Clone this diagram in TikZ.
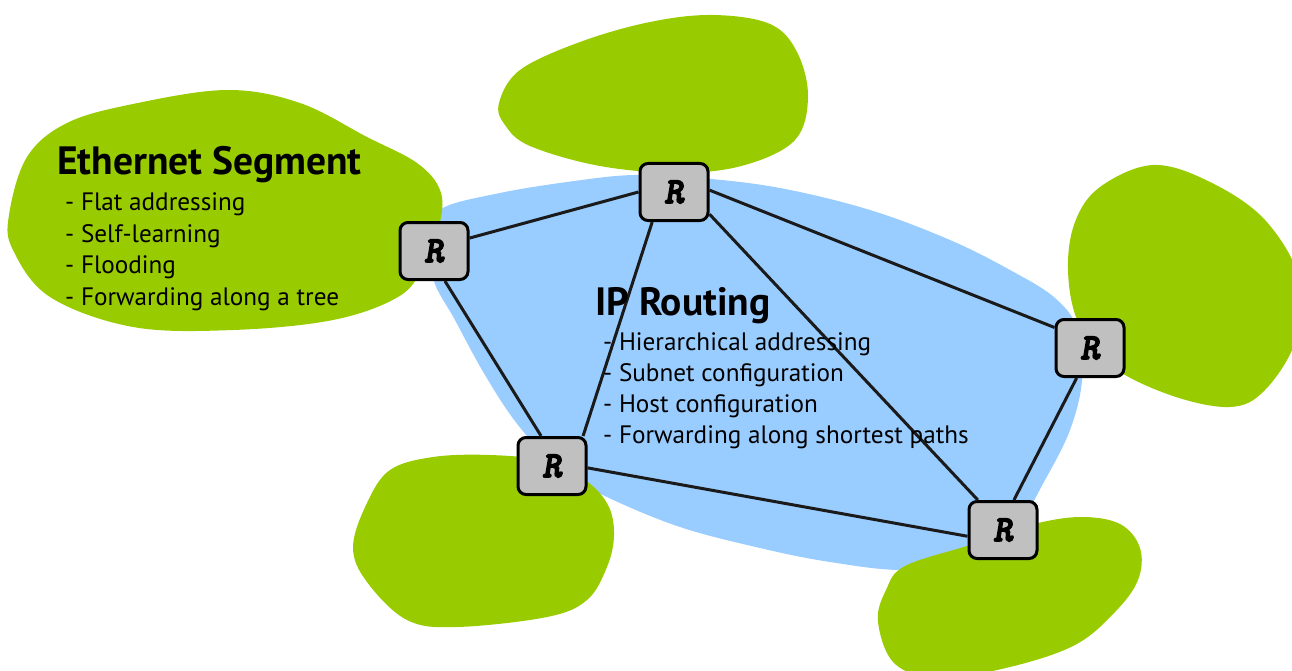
\documentclass[tikz,border=0pt]{standalone}
\usepackage{fontspec}
\setmainfont{PT Sans}
\newfontfamily\routerfont[FakeBold=3.5]{lmmonolt10-boldoblique.otf}
\definecolor{langreen}{HTML}{99CC00}
\definecolor{ipblue}{HTML}{99CCFF}
\definecolor{routergray}{HTML}{C0C0C0}
\definecolor{linkcol}{HTML}{1A1A1A}
\tikzset{
  router/.style={draw=black, line width=3pt, fill=routergray, rounded corners=8pt,
    minimum width=68pt, minimum height=57pt, inner sep=0pt,
    font=\routerfont\fontsize{37}{37}\selectfont},
  link/.style={draw=linkcol, line width=3pt},
  lanblob/.style={fill=langreen, draw=none},
  ipblob/.style={fill=ipblue, draw=none},
  heading/.style={anchor=base west, inner sep=0pt, font=\bfseries\fontsize{39.5}{44}\selectfont},
  bullet/.style={anchor=base west, inner sep=0pt, font=\fontsize{25.2}{30}\selectfont}
}
\begin{document}
\begin{tikzpicture}[x=1pt, y=-1pt]
\useasboundingbox (0,0) rectangle (1292,671);

% IP routing region
\fill[ipblob] plot[smooth cycle, tension=0.6] coordinates {
  (443,208) (500,193) (567,182) (633,175) (700,178) (780,188) (870,210)
  (950,240) (1010,270) (1055,298) (1078,330) (1082,380) (1070,430)
  (1045,480) (1015,530) (975,560) (905,570) (830,562) (760,548)
  (680,527) (607,497) (560,470) (518,425) (485,375) (455,320)
  (433,278) (432,232)};

% Ethernet segments
\fill[lanblob] plot[smooth cycle, tension=0.6] coordinates {
  (9,215) (27,157) (67,123) (133,104) (227,90) (300,103) (367,137)
  (417,163) (440,190) (440,222) (423,267) (398,297) (333,320)
  (233,330) (133,327) (50,297) (13,250)};
\fill[lanblob] plot[smooth cycle, tension=0.6] coordinates {
  (499,103) (520,70) (580,42) (650,22) (713,15) (770,24) (797,52)
  (808,97) (795,140) (745,165) (680,173) (600,166) (530,146) (505,125)};
\fill[lanblob] plot[smooth cycle, tension=0.6] coordinates {
  (1068,270) (1075,222) (1100,187) (1153,165) (1210,182) (1265,220)
  (1300,280) (1296,340) (1265,390) (1230,407) (1170,395) (1110,365)
  (1078,322)};
\fill[lanblob] plot[smooth cycle, tension=0.6] coordinates {
  (353,547) (367,503) (390,470) (433,457) (490,455) (545,461) (585,480)
  (608,505) (614,535) (607,567) (587,600) (547,617) (457,627)
  (407,620) (367,582)};
\fill[lanblob] plot[smooth cycle, tension=0.6] coordinates {
  (878,622) (886,590) (905,566) (970,545) (1030,525) (1080,517)
  (1120,524) (1140,548) (1138,580) (1115,612) (1075,645) (1010,667)
  (940,678) (895,664)};

% routers
\node[router] (r1) at (434,251) {R};
\node[router] (r2) at (674,192) {R};
\node[router] (r3) at (1090,348) {R};
\node[router] (r4) at (552,466) {R};
\node[router] (r5) at (1003,530) {R};

% links
\draw[link] (r1.20) -- (r2.180);
\draw[link] (r1.-70) -- (r4.110);
\draw[link] (r2.234) -- (r4.44);
\draw[link] (r2.3) -- (r3.150);
\draw[link] (r2.-32) -- (r5.130);
\draw[link] (r3.246) -- (r5.70);
\draw[link] (r4.-3) -- (r5.190);

% labels
\node[heading] (ethtitle) at (57,175) {Ethernet Segment};
\node[bullet] (eth1) at (65,210) {- Flat addressing};
\node[bullet] (eth2) at (65,242) {- Self-learning};
\node[bullet] (eth3) at (65,273) {- Flooding};
\node[bullet] (eth4) at (65,305) {- Forwarding along a tree};

\node[heading] (iptitle) at (595,315) {IP Routing};
\node[bullet] (ip1) at (603,350) {- Hierarchical addressing};
\node[bullet] (ip2) at (603,381) {- Subnet configuration};
\node[bullet] (ip3) at (603,412) {- Host configuration};
\node[bullet] (ip4) at (603,443) {- Forwarding along shortest paths};
\end{tikzpicture}
\end{document}
